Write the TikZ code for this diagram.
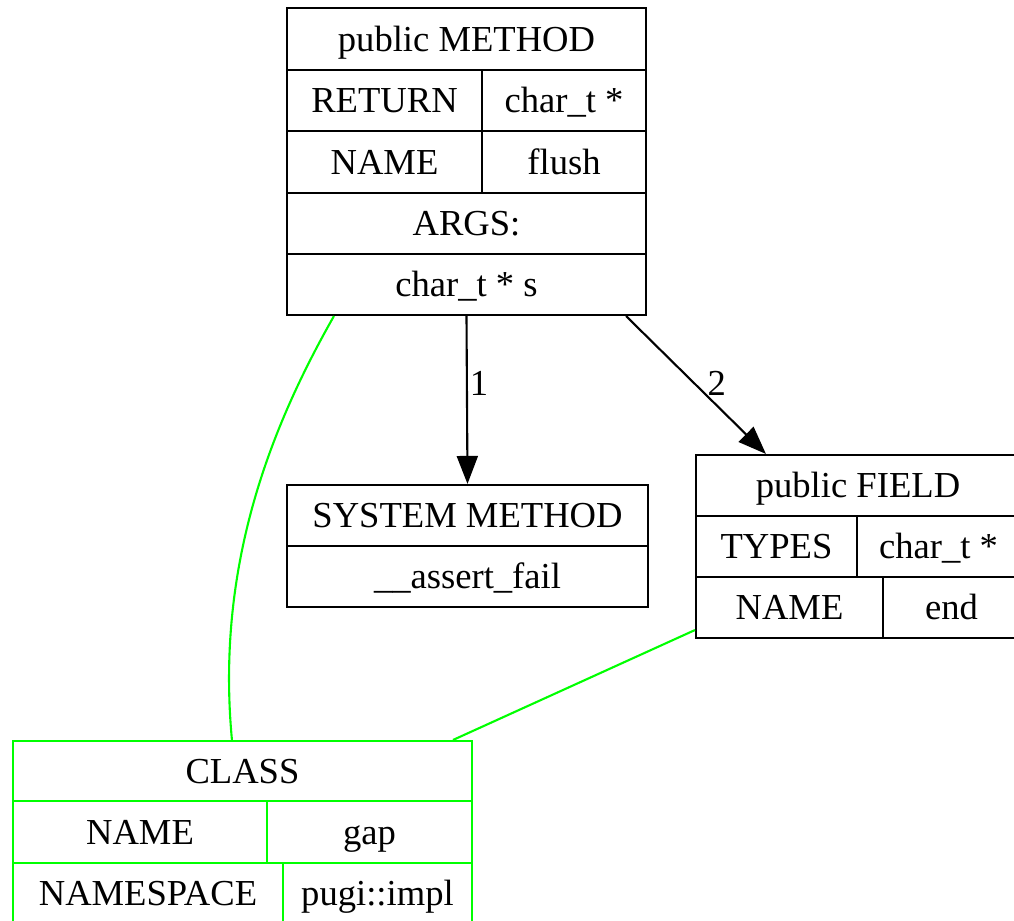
\documentclass[tikz,border=0pt]{standalone}
\usepackage{fontspec}
\setmainfont{Liberation Serif}
\usepackage{tikz}
\usetikzlibrary{arrows.meta}

\begin{document}
\begin{tikzpicture}[x=0.5pt,y=-0.5pt,
                      font=\fontsize{18.3}{21}\selectfont,
                      box/.style={draw,line width=1.05pt,inner sep=0pt},
                      cell/.style={anchor=base,inner sep=0pt},
                      lbl/.style={anchor=west,inner sep=1pt},
                      arr/.style={line width=1.05pt,-{Triangle[length=14pt,width=10.5pt]}},
                      link/.style={draw=green,line width=1.05pt}]
                      \useasboundingbox (0,0) rectangle (1014,921);
                      % public METHOD
                      \node[box,minimum width=179.5pt,minimum height=153.5pt](method)at(466.5,161.5){};
                      \draw[line width=1.05pt] (287,70) -- (646,70) (287,131) -- (646,131) (287,193) -- (646,193) (287,254) -- (646,254);
                      \draw[line width=1.05pt] (482,70) -- (482,193);
                      \node[cell](mtitle)at(466.5,51){public METHOD};
                      \node[cell](mret)at(384.5,112.5){RETURN};
                      \node[cell](mrettype)at(564,112.5){char\_t *};
                      \node[cell](mname)at(384.5,174){NAME};
                      \node[cell](mnameval)at(564,174){flush};
                      \node[cell](margs)at(466.5,235.5){ARGS:};
                      \node[cell](marg)at(466.5,296.5){char\_t * s};
                      % SYSTEM METHOD
                      \node[box,minimum width=180.5pt,minimum height=61pt](sysm)at(467.5,546){};
                      \draw[line width=1.05pt] (287,546) -- (648,546);
                      \node[cell](stitle)at(467.5,527.5){SYSTEM METHOD};
                      \node[cell](sname)at(467.5,588.5){\_\_assert\_fail};
                      % public FIELD
                      \node[box,minimum width=162pt,minimum height=91.5pt](field)at(858,546.5){};
                      \draw[line width=1.05pt] (696,516) -- (1020,516) (696,577) -- (1020,577);
                      \draw[line width=1.05pt] (857,516) -- (857,577) (883,577) -- (883,638);
                      \node[cell](ftitle)at(858,497.5){public FIELD};
                      \node[cell](ftypes)at(776.5,558.5){TYPES};
                      \node[cell](ftype)at(938.5,558.5){char\_t *};
                      \node[cell](fname)at(789.5,619.5){NAME};
                      \node[cell](fnameval)at(951.5,619.5){end};
                      % CLASS
                      \node[box,draw=green,minimum width=229.5pt,minimum height=91.5pt](class)at(242.5,832.5){};
                      \draw[green,line width=1.05pt] (13,801) -- (472,801) (13,863) -- (472,863);
                      \draw[green,line width=1.05pt] (267,801) -- (267,863) (283,863) -- (283,924);
                      \node[cell](ctitle)at(242.5,783){CLASS};
                      \node[cell](cname)at(140,844){NAME};
                      \node[cell](cnameval)at(369.5,844){gap};
                      \node[cell](cns)at(148,905.5){NAMESPACE};
                      \node[cell](cnsval)at(377.5,905.5){pugi::impl};
                      % edges
                      \draw[arr] (method.south) -- node[lbl,pos=0.4]{1} (sysm.north);
                      \draw[arr] ([xshift=-10.5pt]method.south east) -- node[lbl,pos=0.49,xshift=5pt]{2} ([xshift=35.5pt]field.north west);
                      \draw[link] ([xshift=24pt]method.south west) .. controls (275,420) and (215,560) .. ([xshift=110pt]class.north west);
                      \draw[link] ([yshift=4.5pt]field.south west) -- ([xshift=-10pt]class.north east);
                  \end{tikzpicture}
\end{document}
